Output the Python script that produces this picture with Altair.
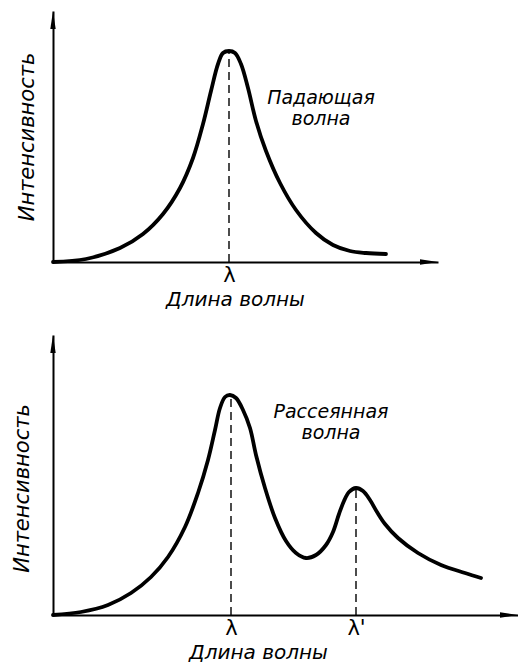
import json
import altair as alt
import pandas as pd

FONT = "DejaVu Sans"

# ---- Top panel: incident wave ----
inc_x = [0, 33, 67, 90, 110, 127, 140, 150, 158, 165, 170, 176, 182, 188, 195, 203, 213, 227, 243, 263, 280, 297, 313, 333]
inc_y = [0, 3, 14, 28, 48, 74, 104, 138, 171, 198, 209, 211, 209, 198, 174, 141, 111, 79, 52, 29, 17, 11, 9, 8]
inc_peaks_x = [176]
inc_peaks_y = [211]
inc_tick_labels = ["λ"]
inc_note = "Падающая\nволна"
inc_note_xy = (268, 164)

# ---- Bottom panel: scattered wave ----
sc_x = [0, 28, 55, 78, 98, 115, 132, 145, 155, 162, 167, 172, 177, 183, 190, 197, 203, 212, 222, 233, 243,
        253, 263, 273, 280, 286, 291, 296, 303, 310, 317, 324, 332, 345, 365, 388, 412, 428]
sc_y = [0, 3, 10, 22, 38, 58, 88, 122, 155, 185, 207, 218, 220, 217, 205, 187, 160, 127, 97, 74, 62,
        57, 60, 70, 83, 101, 114, 123, 127, 124, 115, 103, 91, 77, 62, 50, 42, 37]
sc_peaks_x = [178, 303]
sc_peaks_y = [220, 127]
sc_tick_labels = ["λ", "λ'"]
sc_note = "Рассеянная\nволна"
sc_note_xy = (278, 203)

X_TITLE = "Длина волны"
Y_TITLE = "Интенсивность"


def label_expr(values, labels):
    expr = json.dumps(labels[-1], ensure_ascii=False)
    for v, lab in reversed(list(zip(values[:-1], labels[:-1]))):
        expr = f"datum.value == {v} ? {json.dumps(lab, ensure_ascii=False)} : ({expr})"
    return expr


def panel(cx, cy, pk_x, pk_y, tick_labels, note, note_xy, xmax, ymax, w, h,
          title_x, ytitle_pad, ytitle_y=None):
    xs = alt.Scale(domain=[0, xmax], nice=False, zero=False)
    ys = alt.Scale(domain=[0, ymax], nice=False, zero=False)
    xaxis = alt.Axis(
        values=pk_x, labelExpr=label_expr(pk_x, tick_labels), title=X_TITLE,
        domain=True, domainColor="black", domainWidth=2, ticks=False, grid=False,
        labelFont=FONT, labelFontSize=21, labelColor="black", labelPadding=2,
        titleFont=FONT, titleFontSize=20, titleFontStyle="italic", titleFontWeight="normal",
        titleColor="black", titlePadding=4, titleX=title_x,
    )
    yargs = dict(
        labels=False, ticks=False, grid=False, domain=True, domainColor="black", domainWidth=2,
        title=Y_TITLE, titleFont=FONT, titleFontSize=21, titleFontStyle="italic",
        titleFontWeight="normal", titleColor="black", titlePadding=ytitle_pad,
    )
    if ytitle_y is not None:
        yargs["titleY"] = ytitle_y
    yaxis = alt.Axis(**yargs)

    X = lambda f="x": alt.X(f"{f}:Q", scale=xs, axis=xaxis)
    Y = lambda f="y": alt.Y(f"{f}:Q", scale=ys, axis=yaxis)

    curve = alt.Chart(pd.DataFrame({"x": cx, "y": cy})).mark_line(
        color="black", strokeWidth=3.8, interpolate="catmull-rom", strokeCap="round"
    ).encode(x=X(), y=Y())

    dashes = alt.Chart(pd.DataFrame({"x": pk_x, "y": [0] * len(pk_x), "y2": pk_y})).mark_rule(
        color="black", strokeWidth=1.4, strokeDash=[8, 5]
    ).encode(x=X(), y=Y(), y2="y2:Q")

    arrow_len = 18
    arrows_x = alt.Chart(pd.DataFrame({"x": [xmax - arrow_len / 2], "y": [0]})).mark_point(
        shape="M-1,-0.3L1,0L-1,0.3Z", size=arrow_len ** 2, filled=True, color="black", opacity=1
    ).encode(x=X(), y=Y())
    arrows_y = alt.Chart(pd.DataFrame({"x": [0], "y": [ymax - arrow_len / 2]})).mark_point(
        shape="M-0.3,1L0,-1L0.3,1Z", size=arrow_len ** 2, filled=True, color="black", opacity=1
    ).encode(x=X(), y=Y())

    text = alt.Chart(pd.DataFrame({"x": [note_xy[0]], "y": [note_xy[1]], "t": [note]})).mark_text(
        font=FONT, fontSize=19, fontStyle="italic", color="black", lineBreak="\n",
        lineHeight=21, align="center", baseline="middle"
    ).encode(x=X(), y=Y(), text="t:N")

    return alt.layer(curve, dashes, arrows_x, arrows_y, text).properties(width=w, height=h)


top = panel(inc_x, inc_y, inc_peaks_x, inc_peaks_y, inc_tick_labels, inc_note, inc_note_xy,
            385, 251, 385, 251, title_x=182, ytitle_pad=16)
bottom = panel(sc_x, sc_y, sc_peaks_x, sc_peaks_y, sc_tick_labels, sc_note, sc_note_xy,
               465, 280, 465, 280, title_x=205, ytitle_pad=21, ytitle_y=153)

chart = alt.vconcat(top, bottom, spacing=26).properties(
    padding={"left": 11, "top": 10, "right": 0, "bottom": 0},
    background="white",
).configure_view(stroke=None)

chart.save("out.html", embed_options={"renderer": "svg", "actions": False})
